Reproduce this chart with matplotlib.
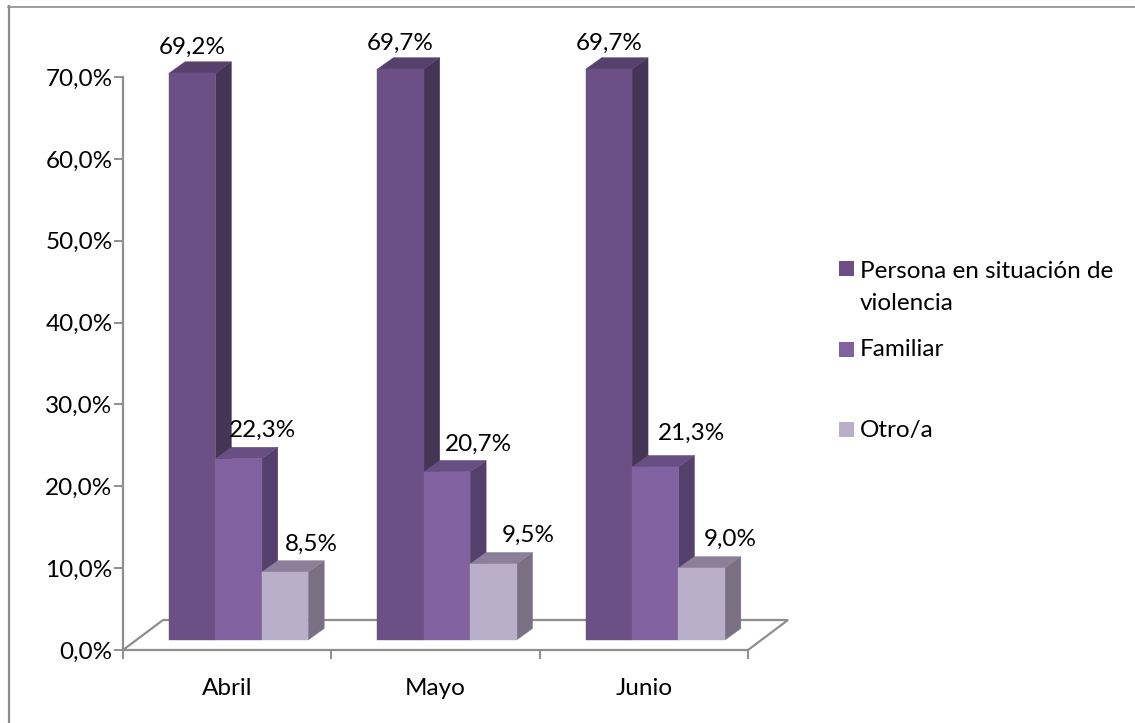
import matplotlib
matplotlib.use('Agg')
import matplotlib.pyplot as plt
from matplotlib.lines import Line2D
from matplotlib.patches import Polygon, Rectangle

# Values
months = ['Abril', 'Mayo', 'Junio']
series_names = ['Persona en situación de\nviolencia', 'Familiar', 'Otro/a']
persona = [69.2, 69.7, 69.7]
familiar = [22.3, 20.7, 21.3]
otro = [8.5, 9.5, 9.0]
y_ticks = [0, 10, 20, 30, 40, 50, 60, 70]

# data labels were placed by hand in the original, offsets in pixels from the bar's front top centre
label_dx = [[0, 0, 0], [24, 32, 36], [26, 35, 29]]
label_dy = [[26, 26, 26], [28, 28, 34], [28, 29, 29]]

W, H = 1135, 723
FS = 17.5
plt.rcParams['font.family'] = ['Lato', 'DejaVu Sans']

fig = plt.figure(figsize=(W / 100, H / 100), dpi=100)

# only the top and left of the chart frame are inside the image
fig.add_artist(Line2D([9 / W, 9 / W], [0, 1 - 6 / H], color='#8c8c8c', lw=1.6))
fig.add_artist(Line2D([8 / W, 1], [1 - 6.5 / H, 1 - 6.5 / H], color='#8c8c8c', lw=1.2))

# axes box matches the front of the floor
left, right, top, bottom = 123, 748, 77, 650
ax = fig.add_axes([left / W, 1 - bottom / H, (right - left) / W, (bottom - top) / H])
ax.set_xlim(0, 3)
ax.set_ylim(0, 70)
ax.patch.set_alpha(0)

for s in ['top', 'right']:
    ax.spines[s].set_visible(False)
for s in ['left', 'bottom']:
    ax.spines[s].set_color('#8e8e8e')
    ax.spines[s].set_linewidth(1.6)

ax.set_yticks(y_ticks)
ax.set_yticklabels([f'{v:.1f}%'.replace('.', ',') for v in y_ticks])
ax.set_xticks([0, 1, 2, 3])
ax.set_xticklabels([])
ax.tick_params(axis='both', color='#8e8e8e', width=1.4, length=6.5, labelsize=FS, pad=1, labelcolor='black')

px_x = 3 / (right - left)
px_y = 70 / (bottom - top)

# floor of the 3d box
floor_dx, floor_dy = 40 * px_x, 30 * px_y
ax.plot([0, floor_dx, 3 + floor_dx, 3], [0, floor_dy, floor_dy, 0], color='#8e8e8e', lw=1.6,
        clip_on=False, zorder=1, solid_joinstyle='miter')

# front, top, side colours per series
colors = [('#6a5084', '#55416c', '#453555'),
          ('#8062a0', '#674f83', '#553f6c'),
          ('#b9afc8', '#8b7f99', '#7a7086')]
values = [persona, familiar, otro]

base = 10 * px_y
zero = 8 * px_y  # perspective: bar tops measure from slightly below the foot of the bar
stretch = 1.004
bar_w = 46.4 * px_x
start = 46 * px_x
dx, dy = 16 * px_x, 11.5 * px_y

# series drawn left to right so the side of a bar is hidden by the next one
for m in range(len(months)):
    for i, vals in enumerate(values):
        v = vals[m]
        x0 = m + start + i * bar_w
        x1 = x0 + bar_w
        y1 = zero + v * stretch
        front, roof, side = colors[i]
        ax.add_patch(Polygon([(x1, base), (x1 + dx, base + dy), (x1 + dx, y1 + dy), (x1, y1)],
                             fc=side, ec=side, lw=0.3, clip_on=False, zorder=3 + i))
        ax.add_patch(Polygon([(x0, y1), (x0 + dx, y1 + dy), (x1 + dx, y1 + dy), (x1, y1)],
                             fc=roof, ec=roof, lw=0.3, clip_on=False, zorder=3 + i))
        ax.add_patch(Rectangle((x0, base), bar_w, y1 - base, fc=front, ec=front, lw=0.3,
                               clip_on=False, zorder=3 + i))
        ax.text(x0 + bar_w / 2 + label_dx[i][m] * px_x, y1 + label_dy[i][m] * px_y,
                f'{v:.1f}%'.replace('.', ','), ha='center', va='center', fontsize=FS, color='black', zorder=10)

# month labels
for m, name in enumerate(months):
    ax.text(m + 0.5, -4.75, name, ha='center', va='center', fontsize=FS, color='black')

# legend
for y, c in zip([268.5, 349.5, 429.5], colors):
    fig.add_artist(Rectangle((839 / W, 1 - (y + 7.5) / H), 15 / W, 15 / H, transform=fig.transFigure,
                             fc=c[0], ec='none'))
for name, y in zip(series_names, [260.5, 349, 430]):
    fig.text(860 / W, 1 - y / H, name, ha='left', va='top' if '\n' in name else 'center', fontsize=FS,
             color='black', linespacing=1.65)

plt.savefig('out.png', dpi=100)
plt.close()
